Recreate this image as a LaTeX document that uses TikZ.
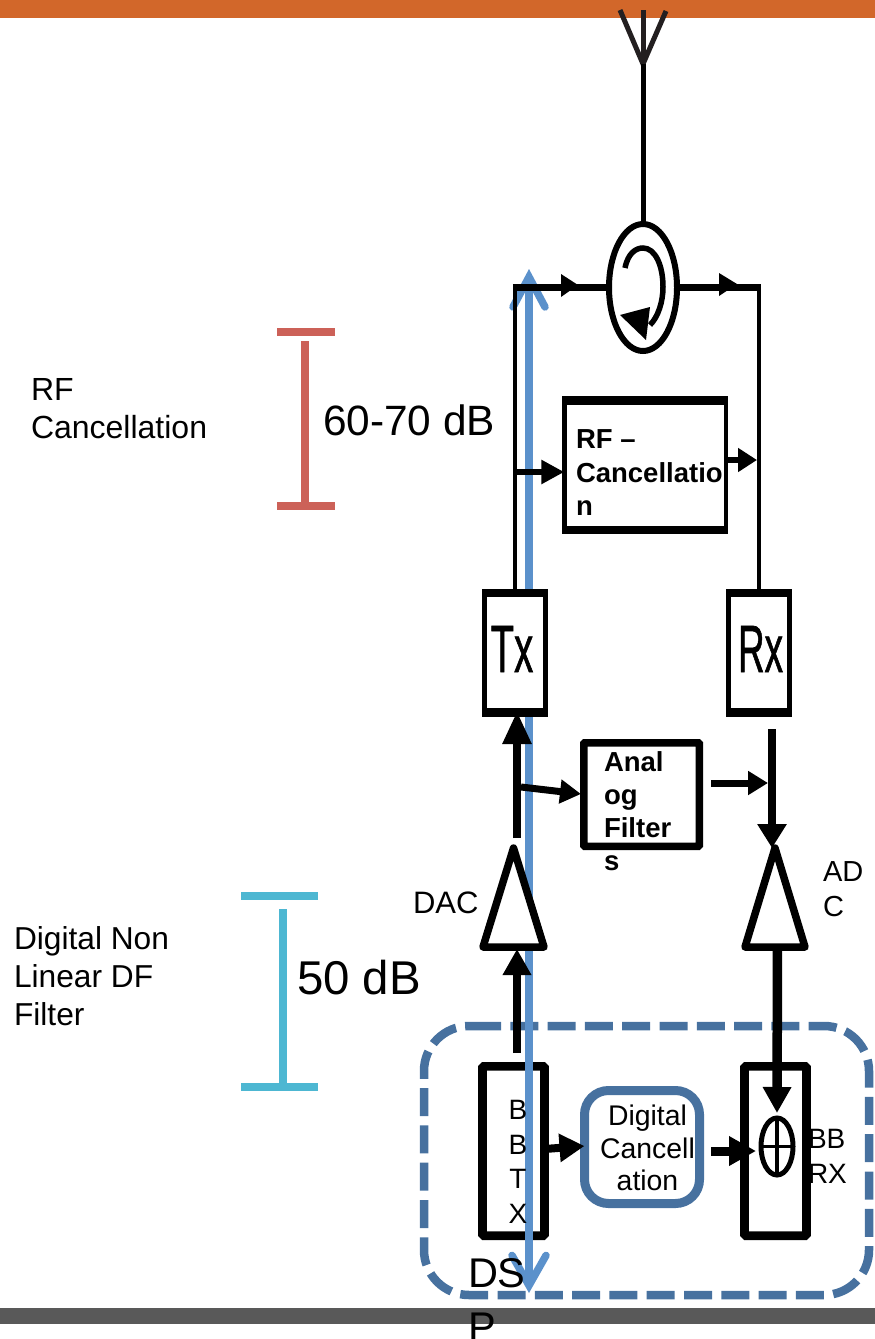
\documentclass[tikz,border=0pt]{standalone}
\usepackage{fontspec}
\setmainfont{Liberation Sans}
\newfontfamily\boldish[FakeBold=1.2]{Liberation Sans}
\usetikzlibrary{arrows.meta,shapes.geometric}
\definecolor{topbar}{HTML}{D2672A}
\definecolor{botbar}{HTML}{595959}
\definecolor{dsp}{HTML}{47719F}
\definecolor{sigblue}{HTML}{5B91CB}
\definecolor{rfred}{HTML}{CC6158}
\definecolor{dfcyan}{HTML}{4DB7D2}
\definecolor{antblack}{HTML}{231F20}
\newcommand{\fs}[2]{\fontsize{#1}{#2}\selectfont}
\tikzset{
  x=1pt,y=-1pt,
  plain/.style={inner sep=0pt,outer sep=0pt,align=left,anchor=west},
  blk/.style={draw=black,fill=white,inner sep=0pt,outer sep=0pt},
  bbbox/.style={draw=black,line width=8.7pt,rounded corners=1.5pt,minimum width=62pt,minimum height=169.3pt,inner sep=0,outer sep=0},
  conn/.style={draw=black,line cap=butt},
  thickarrow/.style={conn,line width=8.5pt,-{Triangle[length=33pt,width=27pt]}},
  medarrow/.style={conn,line width=7pt,-{Triangle[length=21pt,width=23pt]}},
  smallarrow/.style={conn,line width=6.5pt,-{Triangle[length=21pt,width=23pt]}},
  rail/.style={conn,line width=4.5pt},
  bigrail/.style={conn,line width=7.5pt},
  conv/.style={draw=black,fill=white,line width=7.5pt,line join=round},
  redbar/.style={rfred,line width=8pt},
  cyanbar/.style={dfcyan,line width=8pt},
}
\begin{document}
\begin{tikzpicture}
\useasboundingbox (0,0) rectangle (875,1339);
\fill[topbar] (0,0) rectangle (875,18);
\fill[botbar] (0,1308) rectangle (875,1324);

% DSP region
\draw[dsp,line width=8.5pt,rounded corners=45pt,dash pattern=on 28pt off 9.3pt] (473,1026) -- (869,1026) -- (869,1295) -- (424,1295) -- (424,1026) -- (473,1026);

% baseband boxes (under the blue arrow)
\node[bbbox] (bbtx) at (513.5,1151) {};
\node[bbbox] (bbrx) at (775.5,1151) {};

% blue arrow
\coordinate (bluetop) at (529,269);
\coordinate (bluebot) at (529,1293);
\draw[sigblue,line width=7.5pt,{Straight Barb[length=30pt,width=32pt,line cap=round]}-{Straight Barb[length=30pt,width=34pt,line cap=round]}] (bluetop) -- (bluebot);

% Tx / Rx
\node[blk,line width=5pt,minimum width=61pt,minimum height=123pt] (tx) at (515,653) {};
\node[blk,line width=5pt,minimum width=61pt,minimum height=123pt] (rx) at (759,653) {};
\fill (482,589) rectangle (548,597);
\fill (482,708) rectangle (548,717);
\fill (726,589) rectangle (792,597);
\fill (726,708) rectangle (792,717);
\node[inner sep=0,xscale=.57,font=\boldish\fs{67}{67}] (txt) at (512,649) {Tx};
\node[inner sep=0,xscale=.55,font=\boldish\fs{67}{67}] (rxt) at (760.5,649) {Rx};

% converters
\coordinate (dacA) at (513.5,848);
\coordinate (dacL) at (483,947);
\coordinate (dacR) at (544,947);
\coordinate (adcA) at (775,848);
\coordinate (adcL) at (745,947);
\coordinate (adcR) at (805,947);
\draw[conv] (dacA) -- (dacL) -- (dacR) -- cycle;
\draw[conv] (adcA) -- (adcL) -- (adcR) -- cycle;

% antenna
\coordinate (antB) at (643,64);
\coordinate (antT) at (643,10);
\coordinate (antL) at (620,10);
\coordinate (antR) at (666,11);
\draw[antblack,line width=5pt] (antL) -- (antB) -- (antR);
\draw[antblack,line width=5pt] (antT) -- (antB);

% circulator
\node[ellipse,draw=black,line width=6pt,minimum width=68pt,minimum height=127pt,inner sep=0,outer sep=0] (circ) at (643,287.5) {};
\draw[conn,line width=5pt] (antB) -- (circ.north);
\coordinate (txcorner) at (515,287.5);
\coordinate (rxcorner) at (759,287.5);
\draw[rail] (tx.north) -- (txcorner);
\draw[rail] (rx.north) -- (rxcorner);
\draw[bigrail] (512.8,287.5) -- (circ.west);
\draw[bigrail] (circ.east) -- (761.2,287.5);
\fill (561,274) -- (578,285) -- (561,297) -- cycle;
\fill (719,273) -- (737,284) -- (719,296) -- cycle;
\draw[line width=5.5pt] (625,268) .. controls (628,253) and (636,248) .. (643,248) .. controls (655,248) and (663,265) .. (663,287) .. controls (663,302) and (658,317) .. (650,325);
\fill (620,315) -- (650,307) -- (646,340) -- cycle;

% RF cancellation
\node[blk,line width=4.5pt,minimum width=161.5pt,minimum height=133.5pt] (rfc) at (645,465) {};
\fill (562,396) rectangle (728,405);
\fill (562,526) rectangle (728,534);
\node[plain,font=\bfseries\fs{27.5}{33.5}] (rfct) at (576,473) {RF –\\Cancellatio\\n};
\coordinate (rfin) at (515,472);
\coordinate (rfout) at (757,460);
\draw[smallarrow,-{Triangle[length=23pt,width=23pt]}] (rfin) -- (rfc.west |- rfin);
\draw[smallarrow,-{Triangle[length=19pt,width=23pt]}] (rfc.east |- rfout) -- (rfout);

% analog filter
\node[blk,line width=7.5pt,rounded corners=1pt,minimum width=115.5pt,minimum height=103.5pt] (af) at (641.5,794.5) {};
\node[plain,font=\bfseries\fs{27.5}{33}] (aft) at (604,811) {Anal\\og\\Filter\\s};
\coordinate (dacOut) at (517,838);
\coordinate (txIn) at (517,711);
\coordinate (txBr) at (521,787);
\coordinate (afIn) at (581,794);
\draw[thickarrow] (dacOut) -- (txIn);
\draw[medarrow] (txBr) -- (afIn);
\coordinate (afOut) at (711,783);
\coordinate (rxJoin) at (768,783);
\coordinate (rxOut) at (772,729);
\coordinate (adcIn) at (772,848);
\draw[medarrow,-{Triangle[length=20pt,width=23pt]}] (afOut) -- (rxJoin);
\draw[conn,line width=8.5pt,-{Triangle[length=24pt,width=28pt]}] (rxOut) -- (adcIn);

% digital cancellation
\node[draw=dsp,fill=white,line width=9pt,rounded corners=24pt,minimum width=115pt,minimum height=113pt,inner sep=0,outer sep=0] (dc) at (642,1147) {};
\node[inner sep=0,align=center,font=\fs{28.4}{32.8}] (dct) at (647.5,1148) {Digital\\Cancell\\ation};

% adder
\node[ellipse,draw=black,line width=5pt,minimum width=32pt,minimum height=57pt,inner sep=0,outer sep=0] (add) at (777,1146.5) {};
\draw[line width=3.5pt] (add.north) -- (add.south);
\draw[line width=3.5pt] (add.west) -- (add.east);

% baseband connectors
\coordinate (bbOut) at (517,1053);
\coordinate (dacIn) at (517,949);
\draw[thickarrow,-{Triangle[length=26pt,width=27pt]}] (bbOut) -- (dacIn);
\coordinate (adcOut) at (777.5,947);
\draw[conn,line width=9.5pt,-{Triangle[length=26pt,width=27pt]}] (adcOut) -- ([yshift=5pt]add.north);
\draw[conn,line width=8pt,-{Triangle[length=25pt,width=27pt]}] (bbtx.east |- 0,1149) -- (dc.west |- 0,1146);
\coordinate (dcOut) at (711,1151);
\draw[conn,line width=9pt,-{Triangle[length=27pt,width=28pt]}] (dcOut) -- ([xshift=-5pt]add.west |- dcOut);

% labels
\node[inner sep=0,align=center,font=\fs{28}{34.7}] (bbtxt) at (518,1162) {B\\B\\T\\X};
\node[plain,font=\fs{28}{35}] (bbrxt) at (808,1156) {BB\\RX};
\node[plain,font=\fs{41.5}{54}] (dspt) at (468,1300) {DS\\P};
\node[plain,font=\fs{31}{35}] (dact) at (413,903) {DAC};
\node[plain,font=\fs{29}{35}] (adct) at (823,889) {AD\\C};
\node[plain,font=\fs{32}{38}] (rft) at (31,409) {RF\\Cancellation};
\node[plain,font=\fs{31.7}{38}] (dft) at (14,976) {Digital Non\\Linear DF\\Filter};
\node[plain,font=\fs{42.4}{44}] (g1) at (323,420) {60-70 dB};
\node[plain,font=\fs{47.4}{48}] (g2) at (297,978) {50 dB};

% gain brackets
\coordinate (r1) at (277,331.7); \coordinate (r2) at (335,331.7);
\coordinate (r3) at (277,505.7); \coordinate (r4) at (335,505.7);
\coordinate (r5) at (304.5,341); \coordinate (r6) at (304.5,505.7);
\draw[redbar] (r1) -- (r2);
\draw[redbar] (r3) -- (r4);
\draw[redbar] (r5) -- (r6);
\coordinate (c1) at (241,896); \coordinate (c2) at (318,896);
\coordinate (c3) at (241,1087); \coordinate (c4) at (318,1087);
\coordinate (c5) at (283,909); \coordinate (c6) at (283,1087);
\draw[cyanbar] (c1) -- (c2);
\draw[cyanbar] (c3) -- (c4);
\draw[cyanbar] (c5) -- (c6);
\end{tikzpicture}
\end{document}
